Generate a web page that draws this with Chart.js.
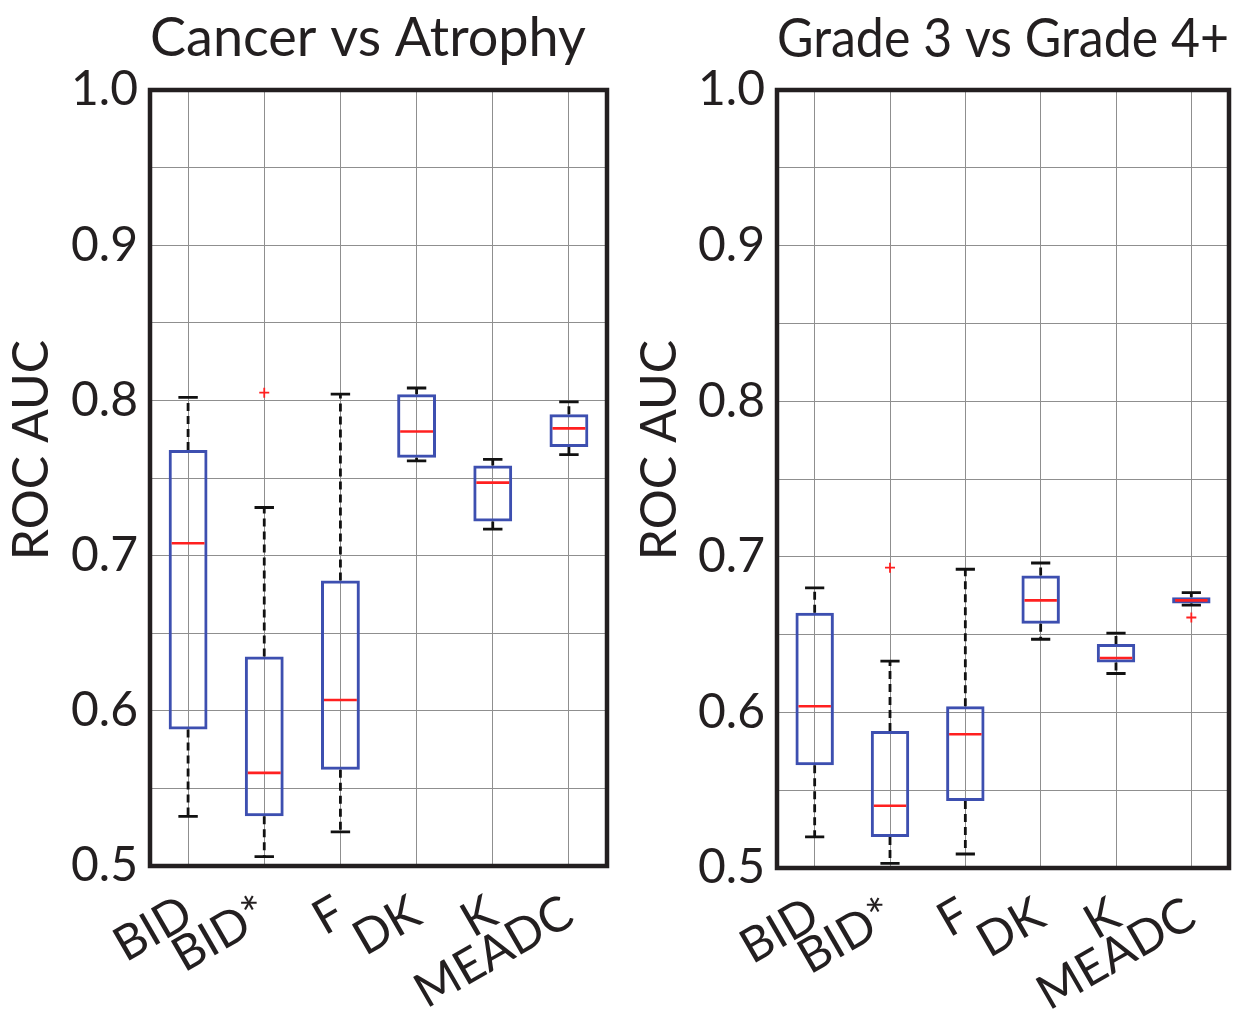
<!DOCTYPE html>
<html>
<head>
<meta charset="utf-8">
<script src="https://cdn.jsdelivr.net/npm/chart.js@4.4.1/dist/chart.umd.min.js"></script>
<style>
html, body { margin: 0; padding: 0; background: #fff; }
#wrap { position: relative; width: 1256px; height: 1029px; }
.pane { position: absolute; top: 0; width: 628px; height: 1029px; }
</style>
</head>
<body>
<div id="wrap">
  <div class="pane" style="left:0"><canvas id="left"></canvas></div>
  <div class="pane" style="left:628px"><canvas id="right"></canvas></div>
</div>
<script>
const categories = ['BID', 'BID*', 'F', 'DK', 'K', 'MEADC'];

// Cancer vs Atrophy
const caMin = [0.532, 0.506, 0.522, 0.761, 0.717, 0.765];
const caQ1  = [0.588, 0.532, 0.562, 0.763, 0.722, 0.770];
const caMed = [0.708, 0.560, 0.607, 0.780, 0.747, 0.782];
const caQ3  = [0.768, 0.635, 0.684, 0.804, 0.758, 0.791];
const caMax = [0.802, 0.731, 0.804, 0.808, 0.762, 0.799];
const caOut = [null, 0.805, null, null, null, null];

// Grade 3 vs Grade 4+
const grMin = [0.520, 0.503, 0.509, 0.647, 0.625, 0.669];
const grQ1  = [0.566, 0.520, 0.543, 0.657, 0.632, 0.670];
const grMed = [0.604, 0.540, 0.586, 0.672, 0.635, 0.672];
const grQ3  = [0.664, 0.588, 0.604, 0.688, 0.644, 0.674];
const grMax = [0.680, 0.633, 0.692, 0.696, 0.651, 0.677];
const grOut = [null, 0.693, null, null, null, 0.661];

const FONT = 'Lato, "Open Sans", sans-serif';
const INK = '#231f20';

function boxParts(lo, q1, med, q3, hi, geo) {
    return {
        id: 'boxParts',
        afterDatasetsDraw(chart) {
            const { ctx, chartArea: a, scales: { y } } = chart;
            const bars = chart.getDatasetMeta(0).data;
            ctx.save();
            bars.forEach((bar, i) => {
                const x = bar.x, w = bar.width;
                const pLo = y.getPixelForValue(lo[i]);
                const pHi = y.getPixelForValue(hi[i]);
                const pQ1 = y.getPixelForValue(q1[i]);
                const pQ3 = y.getPixelForValue(q3[i]);
                const pMed = y.getPixelForValue(med[i]);
                // whiskers
                ctx.strokeStyle = '#111';
                ctx.lineWidth = 2.8;
                ctx.setLineDash([8, 5]);
                ctx.beginPath();
                ctx.moveTo(x, pQ3); ctx.lineTo(x, pHi);
                ctx.moveTo(x, pQ1); ctx.lineTo(x, pLo);
                ctx.stroke();
                // caps
                ctx.setLineDash([]);
                ctx.beginPath();
                ctx.moveTo(x - w / 4, pHi); ctx.lineTo(x + w / 4, pHi);
                ctx.moveTo(x - w / 4, pLo); ctx.lineTo(x + w / 4, pLo);
                ctx.stroke();
                // median
                ctx.strokeStyle = '#ff2020';
                ctx.lineWidth = 2.6;
                ctx.beginPath();
                ctx.moveTo(x - w / 2 + 3, pMed); ctx.lineTo(x + w / 2 - 3, pMed);
                ctx.stroke();
            });
            // frame
            ctx.strokeStyle = INK;
            ctx.lineWidth = 4.5;
            ctx.strokeRect(a.left, a.top, a.right - a.left, a.bottom - a.top);
            ctx.restore();
        },
        afterDraw(chart) {
            const ctx = chart.ctx;
            ctx.save();
            ctx.translate(geo.tx, geo.ty);
            ctx.rotate(-Math.PI / 2);
            ctx.fillStyle = INK;
            ctx.font = '50px ' + FONT;
            ctx.textAlign = 'center';
            ctx.textBaseline = 'middle';
            ctx.fillText('ROC AUC', 0, 0);
            ctx.restore();
        }
    };
}

function boxChart(id, title, lo, q1, med, q3, hi, out, geo) {
    const ctx = document.getElementById(id).getContext('2d');
    return new Chart(ctx, {
        type: 'bar',
        data: {
            labels: categories,
            datasets: [
                {
                    data: categories.map((c, i) => [q1[i], q3[i]]),
                    backgroundColor: 'rgba(0,0,0,0)',
                    borderColor: '#3d4fb0',
                    borderWidth: 3,
                    borderSkipped: false,
                    barPercentage: 0.51,
                    categoryPercentage: 1
                },
                {
                    type: 'line',
                    data: out,
                    showLine: false,
                    pointStyle: 'cross',
                    pointRadius: 5,
                    pointBorderColor: '#ff2020',
                    pointBorderWidth: 1.8
                }
            ]
        },
        options: {
            responsive: true,
            maintainAspectRatio: false,
            animation: false,
            layout: { padding: { top: 0, right: geo.right, bottom: 0, left: 0 } },
            plugins: {
                legend: { display: false },
                tooltip: { enabled: false },
                title: {
                    display: true,
                    text: title,
                    align: geo.align,
                    fullSize: false,
                    color: INK,
                    font: { family: FONT, size: geo.ts, weight: 'normal' },
                    padding: { top: 6, bottom: 90 - 6 - geo.ts * 1.2 }
                }
            },
            scales: {
                x: {
                    grid: { offset: false, color: '#8f8f8f', lineWidth: 1, drawTicks: false },
                    border: { display: false },
                    ticks: {
                        color: INK, font: { family: FONT, size: 48 },
                        maxRotation: 30, minRotation: 30, padding: 18, autoSkip: false
                    },
                    afterFit: s => { s.height = geo.xh; }
                },
                y: {
                    min: 0.5, max: 1.0,
                    grid: { color: '#8f8f8f', lineWidth: 1, drawTicks: false },
                    border: { display: false },
                    ticks: {
                        stepSize: 0.05, autoSkip: false, color: INK,
                        font: { family: FONT, size: 48 }, padding: 12,
                        callback: v => Math.abs(v * 10 - Math.round(v * 10)) < 1e-6 ? v.toFixed(1) : ''
                    },
                    afterFit: s => { s.width = geo.yw; }
                }
            }
        },
        plugins: [boxParts(lo, q1, med, q3, hi, geo)]
    });
}

boxChart('left', 'Cancer vs Atrophy', caMin, caQ1, caMed, caQ3, caMax, caOut,
    { yw: 150, xh: 163, right: 21, tx: 32, ty: 450, ts: 54, align: 'start' });
boxChart('right', 'Grade 3 vs Grade 4+', grMin, grQ1, grMed, grQ3, grMax, grOut,
    { yw: 149, xh: 161, right: 27, tx: 32, ty: 450, ts: 55, align: 'center' });
</script>
</body>
</html>
